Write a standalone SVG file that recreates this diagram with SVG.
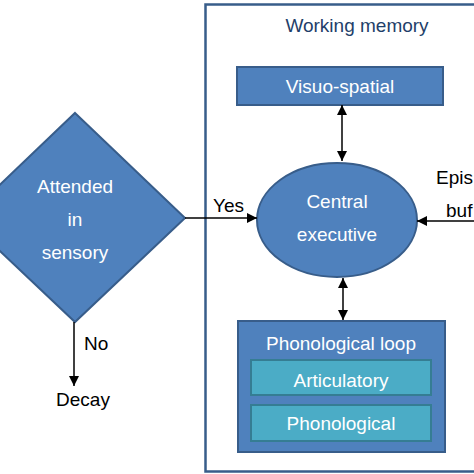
<svg xmlns="http://www.w3.org/2000/svg" width="474" height="474" viewBox="0 0 474 474">
<defs>
<marker id="ah" viewBox="0 0 10 10" refX="10" refY="5" markerWidth="10" markerHeight="10" markerUnits="userSpaceOnUse" orient="auto-start-reverse">
<path d="M0,0 L10,5 L0,10 Z" fill="#000"/>
</marker>
</defs>
<style>
text{font-family:"Liberation Sans",Arial,sans-serif;font-size:19px}
.w{fill:#fff;text-anchor:middle}
.k{fill:#000}
.blue{fill:#4F81BD;stroke:#385D8A;stroke-width:2}
.teal{fill:#4BACC6;stroke:#357D93;stroke-width:2}
.ln{stroke:#000;stroke-width:1.5;fill:none}
</style>
<rect width="474" height="474" fill="#fff"/>
<g id="working-memory">
<rect x="205.5" y="4.5" width="280" height="467" fill="none" stroke="#385D8A" stroke-width="2.5"/>
<text x="357" y="32" text-anchor="middle" fill="#1F3F6A">Working memory</text>
</g>
<g id="decision">
<polygon class="blue" points="75,113 185,218 75,322 -35,218"/>
<text class="w" x="75" y="193">Attended</text>
<text class="w" x="75" y="226">in</text>
<text class="w" x="75" y="259">sensory</text>
</g>
<g id="visuo-spatial">
<rect class="blue" x="237" y="67" width="206" height="38"/>
<text class="w" x="340" y="93">Visuo-spatial</text>
</g>
<g id="central-executive">
<ellipse class="blue" cx="337" cy="220" rx="80" ry="57"/>
<text class="w" x="337" y="208">Central</text>
<text class="w" x="337" y="241">executive</text>
</g>
<g id="phonological-loop">
<rect class="blue" x="238" y="321" width="207" height="131"/>
<text class="w" x="341" y="350">Phonological loop</text>
<rect class="teal" x="251" y="360" width="180" height="35"/>
<text class="w" x="341" y="387">Articulatory</text>
<rect class="teal" x="251" y="405" width="180" height="36"/>
<text class="w" x="341" y="430">Phonological</text>
</g>
<g id="episodic-buffer">
<text class="k" x="436" y="184">Epis</text>
<text class="k" x="446" y="217">buf</text>
</g>
<g id="decay">
<text class="k" x="83" y="406" text-anchor="middle">Decay</text>
</g>
<g id="connectors">
<line class="ln" x1="185" y1="218" x2="257" y2="218" marker-end="url(#ah)"/>
<text class="k" x="213" y="212">Yes</text>
<line class="ln" x1="474" y1="221" x2="417" y2="221" marker-end="url(#ah)"/>
<line class="ln" x1="342" y1="105" x2="342" y2="161" marker-start="url(#ah)" marker-end="url(#ah)"/>
<line class="ln" x1="343" y1="278" x2="343" y2="320" marker-start="url(#ah)" marker-end="url(#ah)"/>
<line class="ln" x1="74" y1="322" x2="74" y2="386" marker-end="url(#ah)"/>
<text class="k" x="84" y="350">No</text>
</g>
</svg>
